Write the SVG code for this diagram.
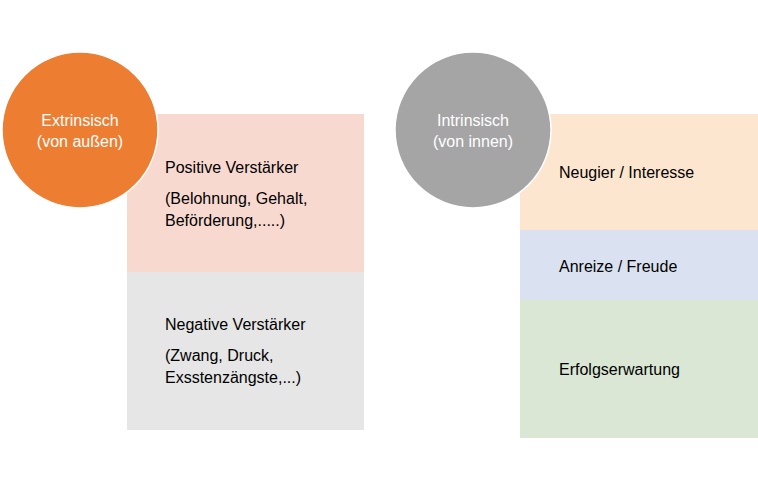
<svg xmlns="http://www.w3.org/2000/svg" width="758" height="490" viewBox="0 0 758 490">
<style>
text{font-family:"Liberation Sans",Arial,sans-serif;font-size:16px;fill:#000}
.c{fill:#fff;text-anchor:middle}
circle{stroke:#fff;stroke-width:1.5}
</style>
<rect width="758" height="490" fill="#fff"/>
<g id="pos"><rect x="127" y="114" width="237" height="158" fill="#F8D9D0"/>
<text x="165" y="173">Positive Verstärker</text><text x="165" y="204">(Belohnung, Gehalt,</text><text x="165" y="226">Beförderung,.....)</text></g>
<g id="neg"><rect x="127" y="272" width="237" height="158" fill="#E6E6E6"/>
<text x="165" y="330">Negative Verstärker</text><text x="165" y="361">(Zwang, Druck,</text><text x="165" y="383">Exsstenzängste,...)</text></g>
<g id="extr"><circle cx="80" cy="130" r="78" fill="#ED7D31"/>
<text class="c" x="80" y="126">Extrinsisch</text><text class="c" x="80" y="147">(von außen)</text></g>
<g id="neu"><rect x="520" y="114" width="238" height="116" fill="#FDE6D0"/><text x="559" y="178">Neugier / Interesse</text></g>
<g id="anr"><rect x="520" y="230" width="238" height="70" fill="#DAE2F1"/><text x="559" y="272">Anreize / Freude</text></g>
<g id="erf"><rect x="520" y="300" width="238" height="138" fill="#D9E7D4"/><text x="559" y="375">Erfolgserwartung</text></g>
<g id="intr"><circle cx="473" cy="130" r="78" fill="#A5A5A5"/>
<text class="c" x="473" y="126">Intrinsisch</text><text class="c" x="473" y="147">(von innen)</text></g>
<g id="connectors"/>
</svg>
